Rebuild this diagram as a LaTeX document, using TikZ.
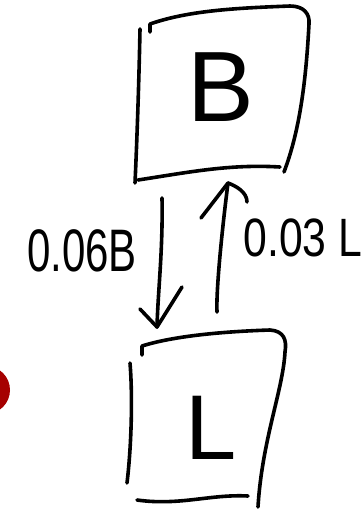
\documentclass[tikz,border=0pt]{standalone}
\usepackage{fontspec}
\setmainfont{Liberation Sans}
\begin{document}
\begin{tikzpicture}[x=1pt,y=-1pt,
  ink/.style={line width=3.6pt,line cap=round,line join=round,black},
  letter/.style={inner sep=0pt,font=\fontsize{100}{100}\selectfont},
  rate/.style={inner sep=0pt,font=\fontsize{60}{60}\selectfont,xscale=0.7}]
\useasboundingbox (0,0) rectangle (362,512);
\fill[white] (0,0) rectangle (362,512);

% compartment B
\node[letter] (B) at (221,87) {B};
\draw[ink] (140,29) .. controls (139,80) and (137,140) .. (135,183);
\draw[ink] (150,32) -- (150,24) .. controls (190,10) and (240,8) .. (290,6)
  .. controls (304,6) and (310,14) .. (309,24)
  .. controls (306,80) and (300,130) .. (284,172);
\draw[ink] (138,180) .. controls (190,172) and (230,164) .. (280,167);

% compartment L
\node[letter,font=\fontsize{92}{92}\selectfont] (L) at (211,428) {L};
\draw[ink] (130,363) .. controls (133,400) and (131,450) .. (127,483);
\draw[ink] (142,355) -- (142,346) .. controls (180,334) and (240,331) .. (270,330)
  .. controls (284,331) and (287,340) .. (285,352)
  .. controls (283,390) and (262,440) .. (258,507);
\draw[ink] (137,500) .. controls (180,506) and (210,494) .. (248,496);

% transfer arrows
\coordinate (dstart) at (162,198);
\coordinate (dtip) at (157,327);
\coordinate (ustart) at (217,312);
\coordinate (utip) at (228,183);
\draw[ink] (dstart) .. controls (163,250) and (158,290) .. (dtip);
\draw[ink] (140,309) -- (dtip) -- (182,287);
\draw[ink] (ustart) .. controls (216,290) and (222,230) .. (utip);
\draw[ink] (201,218) -- (utip) .. controls (236,186) and (247,192) .. (247,202);

% rate labels
\node[rate] (kBL) at (82,251) {0.06B};
\node[rate,font=\fontsize{54}{54}\selectfont,xscale=1.13] (kLB) at (303,238) {0.03 L};

% red marker at the edge
\fill[red!65!black] (-14,390) circle (24);
\end{tikzpicture}
\end{document}
